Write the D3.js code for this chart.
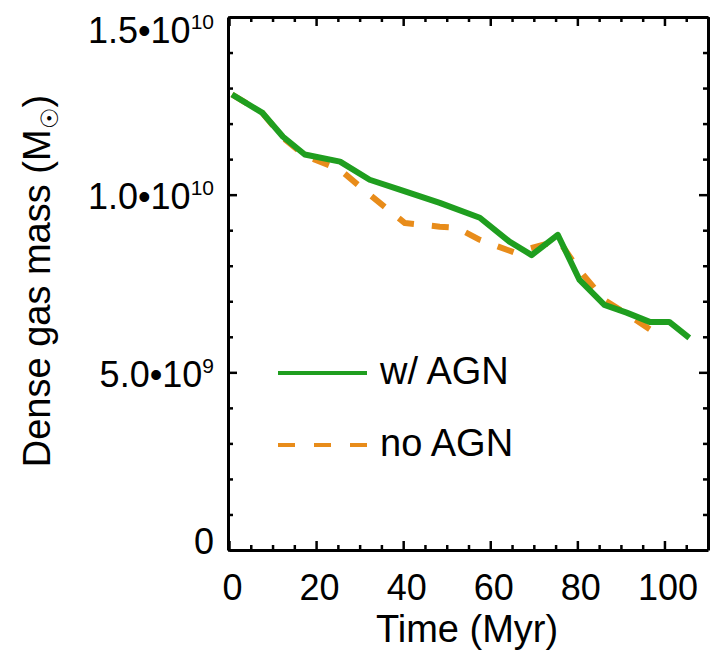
<!DOCTYPE html>
<html>
<head>
<meta charset="utf-8">
<script src="https://cdn.jsdelivr.net/npm/d3@7"></script>
<style>
  body { margin: 0; background: #fff; }
  text { font-family: "Liberation Sans", Arial, Helvetica, sans-serif; fill: #000; }
</style>
</head>
<body>
<script>
// time in Myr, dense gas mass in solar masses
var timeAGN = [0.7, 7.6, 12.4, 17.4, 25.5, 32.3, 39.2, 48.4, 57.6, 64.4, 69.5, 75.5, 80.5, 86.2, 91.3, 96.6, 101.1, 105.7];
var massAGN = [1.282e10, 1.231e10, 1.163e10, 1.113e10, 1.093e10, 1.042e10, 1.014e10, 9.77e9, 9.35e9, 8.68e9, 8.3e9, 8.87e9, 7.6e9, 6.9e9, 6.68e9, 6.42e9, 6.42e9, 5.97e9];
var timeNoAGN = [0.7, 7.6, 12.4, 17.4, 25.5, 32.3, 40.4, 48.4, 52.3, 57.6, 65.6, 72.5, 75.9, 80.0, 86.2, 92.0, 98.9];
var massNoAGN = [1.282e10, 1.231e10, 1.16e10, 1.11e10, 1.07e10, 1.0e10, 9.2e9, 9.1e9, 9.07e9, 8.73e9, 8.37e9, 8.6e9, 8.68e9, 7.94e9, 7.04e9, 6.59e9, 6.03e9];
var xMajor = [0, 20, 40, 60, 80, 100];
var yMajor = [0, 5e9, 1e10, 1.5e10];
var legendLabels = ["w/ AGN", "no AGN"];

var width = 716, height = 653;
var pLeft = 228, pRight = 708, pTop = 17, pBottom = 550;

var svg = d3.select("body").append("svg").attr("width", width).attr("height", height);

var x = d3.scaleLinear().domain([0, 110]).range([pLeft + 1, pRight]);
var y = d3.scaleLinear().domain([0, 1.5e10]).range([pBottom, pTop]);

var xMinor = d3.range(0, 111, 5).filter(d => xMajor.indexOf(d) < 0);
var yMinor = d3.range(0, 1.5e10 + 1, 1e9).filter(d => yMajor.indexOf(d) < 0);

function styleAxis(g, w) {
    g.selectAll("path").attr("stroke", "#000").attr("stroke-width", w);
    g.selectAll("line").attr("stroke", "#000").attr("stroke-width", 2.5);
}

// bottom axis with labels
var gx = svg.append("g").attr("transform", "translate(0," + pBottom + ")")
    .call(d3.axisBottom(x).tickValues(xMajor).tickSizeInner(-9).tickSizeOuter(0).tickPadding(24).tickFormat(d3.format("d")));
styleAxis(gx, 3);
gx.selectAll("text").attr("font-size", 36).attr("dx", 3);
svg.append("g").attr("transform", "translate(0," + pBottom + ")")
    .call(d3.axisBottom(x).tickValues(xMinor).tickSizeInner(-5).tickSizeOuter(0).tickFormat(""))
    .call(g => { g.select("path").remove(); styleAxis(g, 3); });

// top axis, mirrored
var gt = svg.append("g").attr("transform", "translate(0," + pTop + ")")
    .call(d3.axisTop(x).tickValues(xMajor).tickSizeInner(-9).tickSizeOuter(0).tickFormat(""));
styleAxis(gt, 3);
svg.append("g").attr("transform", "translate(0," + pTop + ")")
    .call(d3.axisTop(x).tickValues(xMinor).tickSizeInner(-5).tickSizeOuter(0).tickFormat(""))
    .call(g => { g.select("path").remove(); styleAxis(g, 3); });

// left axis
var gy = svg.append("g").attr("transform", "translate(" + pLeft + ",0)")
    .call(d3.axisLeft(y).tickValues(yMajor).tickSizeInner(-9).tickSizeOuter(0).tickFormat(""));
styleAxis(gy, 3);
svg.append("g").attr("transform", "translate(" + pLeft + ",0)")
    .call(d3.axisLeft(y).tickValues(yMinor).tickSizeInner(-5).tickSizeOuter(0).tickFormat(""))
    .call(g => { g.select("path").remove(); styleAxis(g, 3); });

// right axis
var gr = svg.append("g").attr("transform", "translate(" + pRight + ",0)")
    .call(d3.axisRight(y).tickValues(yMajor).tickSizeInner(-9).tickSizeOuter(0).tickFormat(""));
styleAxis(gr, 3);
svg.append("g").attr("transform", "translate(" + pRight + ",0)")
    .call(d3.axisRight(y).tickValues(yMinor).tickSizeInner(-5).tickSizeOuter(0).tickFormat(""))
    .call(g => { g.select("path").remove(); styleAxis(g, 3); });

// y tick labels like 1.5•10^10, kept inside the axis range
gy.selectAll(".tick").each(function(d) {
    var t = d3.select(this).append("text")
        .attr("x", -14).attr("text-anchor", "end").attr("font-size", 36)
        .attr("dy", d == 0 ? "0.1em" : d == 1.5e10 ? "0.72em" : "0.38em");
    if (d == 0) { t.text("0"); return; }
    var e = Math.floor(Math.log10(d));
    t.append("tspan").text((d / Math.pow(10, e)).toFixed(1) + "\u202210");
    t.append("tspan").attr("font-size", 21).attr("dy", -14).text(e);
});

// axis titles
svg.append("text").attr("x", 467).attr("y", 642).attr("text-anchor", "middle")
    .attr("font-size", 38).text("Time (Myr)");
var yt = svg.append("text").attr("transform", "translate(50,281) rotate(-90)")
    .attr("text-anchor", "middle").attr("font-size", 38);
yt.append("tspan").text("Dense gas mass (M");
yt.append("tspan").attr("font-size", 24).attr("dy", 8).text("\u2609");
yt.append("tspan").attr("dy", -8).text(")");

// lines
var line = d3.line().x(d => x(d[0])).y(d => y(d[1]));
var agn = d3.zip(timeAGN, massAGN);
var noAgn = d3.zip(timeNoAGN, massNoAGN);

svg.append("path").datum(noAgn).attr("d", line)
    .attr("fill", "none").attr("stroke", "#e88c1a").attr("stroke-width", 6)
    .attr("stroke-dasharray", "17,18").attr("stroke-linejoin", "round");
svg.append("path").datum(agn).attr("d", line)
    .attr("fill", "none").attr("stroke", "#1f9e1f").attr("stroke-width", 6)
    .attr("stroke-linejoin", "round");

// legend
var lg = svg.append("g");
lg.append("line").attr("x1", 278).attr("x2", 367).attr("y1", 373).attr("y2", 373)
    .attr("stroke", "#1f9e1f").attr("stroke-width", 4);
lg.append("line").attr("x1", 278).attr("x2", 368).attr("y1", 445).attr("y2", 445)
    .attr("stroke", "#e88c1a").attr("stroke-width", 4).attr("stroke-dasharray", "17,19");
lg.append("text").attr("x", 380).attr("y", 384).attr("font-size", 38).text(legendLabels[0]);
lg.append("text").attr("x", 380).attr("y", 456).attr("font-size", 38).text(legendLabels[1]);
</script>
</body>
</html>
